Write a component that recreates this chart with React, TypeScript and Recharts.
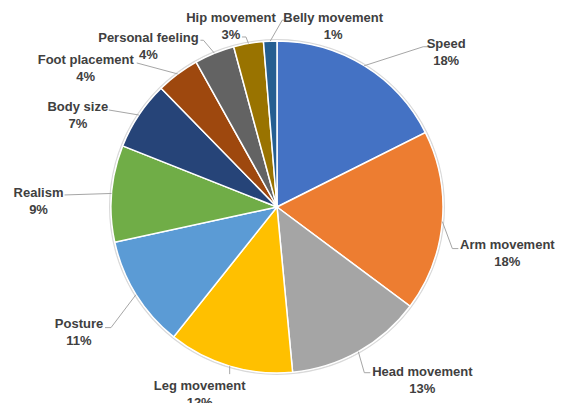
import React from "react";
import { PieChart, Pie, Cell } from "recharts";

const categories = [
  "Speed",
  "Arm movement",
  "Head movement",
  "Leg movement",
  "Posture",
  "Realism",
  "Body size",
  "Foot placement",
  "Personal feeling",
  "Hip movement",
  "Belly movement",
];
const shares = [17.6, 17.6, 13.3, 12.2, 10.9, 9.4, 6.7, 4.2, 3.9, 2.9, 1.3];
const colors = [
  "#4472C4",
  "#ED7D31",
  "#A5A5A5",
  "#FFC000",
  "#5B9BD5",
  "#70AD47",
  "#264478",
  "#9E480E",
  "#636363",
  "#997300",
  "#255E91",
];

const data = categories.map((name, i) => ({ name, value: shares[i] }));

// label placement relative to each slice's outer edge point (text offset, elbow, end)
const LABEL_LAYOUT = [
  { t: [82, -22], e: [59, -19], h: [64, -19] },
  { t: [65, 23], e: [10, 27], h: [16, 27] },
  { t: [64, 20], e: [6, 21], h: [12, 21] },
  { t: [-30, 19], e: [0, 8], h: [0, 8] },
  { t: [-57, 29], e: [-25, 33], h: [-31, 33] },
  { t: [-73, -1], e: [-47, 1.5], h: [-47, 1.5] },
  { t: [-61, -8], e: [-30, -5], h: [-30, -5] },
  { t: [-92, -14], e: [-41, -11], h: [-41, -11] },
  { t: [-66, -16], e: [-11, -13], h: [-14, -13] },
  { t: [-17.5, -26], e: [-2.5, -6.5], h: [-6.5, -6.5] },
  { t: [63, -24], e: [12, -21], h: [16, -21] },
];

const RAD = Math.PI / 180;

const renderLabel = (props: any) => {
  const { cx, cy, midAngle, outerRadius, index, percent, name } = props;
  const ex = cx + outerRadius * Math.cos(-midAngle * RAD);
  const ey = cy + outerRadius * Math.sin(-midAngle * RAD);
  const lay = LABEL_LAYOUT[index];
  const tx = ex + lay.t[0];
  const ty = ey + lay.t[1];
  const pts = `${ex},${ey} ${ex + lay.e[0]},${ey + lay.e[1]} ${ex + lay.h[0]},${ey + lay.h[1]}`;
  const pct = Math.round(percent * 1000 + 1e-6) / 10;
  return (
    <g key={`lbl-${index}`}>
      <polyline points={pts} fill="none" stroke="#A6A6A6" strokeWidth={1} />
      <text
        x={tx}
        y={ty}
        textAnchor="middle"
        dominantBaseline="central"
        fill="#404040"
        fontFamily="'Liberation Sans', Arial, sans-serif"
        fontWeight="bold"
        fontSize={13}
      >
        {name}
      </text>
      <text
        x={tx}
        y={ty + 17}
        textAnchor="middle"
        dominantBaseline="central"
        fill="#404040"
        fontFamily="'Liberation Sans', Arial, sans-serif"
        fontWeight="bold"
        fontSize={13}
      >
        {`${Math.round(pct)}%`}
      </text>
    </g>
  );
};

export default function App() {
  return (
    <div style={{ position: "absolute", left: 0, top: 0, width: 564, height: 403, background: "#fff" }}>
      <PieChart width={564} height={403} margin={{ top: 0, right: 0, bottom: 0, left: 0 }}>
        <Pie
          data={[{ value: 1 }]}
          dataKey="value"
          cx={277}
          cy={207}
          innerRadius={166.5}
          outerRadius={168}
          startAngle={90}
          endAngle={-270}
          fill="#D9D9D9"
          stroke="none"
          isAnimationActive={false}
        />
        <Pie
          data={data}
          dataKey="value"
          nameKey="name"
          cx={277}
          cy={207}
          outerRadius={166}
          startAngle={90}
          endAngle={-270}
          stroke="#FFFFFF"
          strokeWidth={1.5}
          label={renderLabel}
          labelLine={false}
          isAnimationActive={false}
        >
          {data.map((d, i) => (
            <Cell key={d.name} fill={colors[i]} />
          ))}
        </Pie>
      </PieChart>
    </div>
  );
}
